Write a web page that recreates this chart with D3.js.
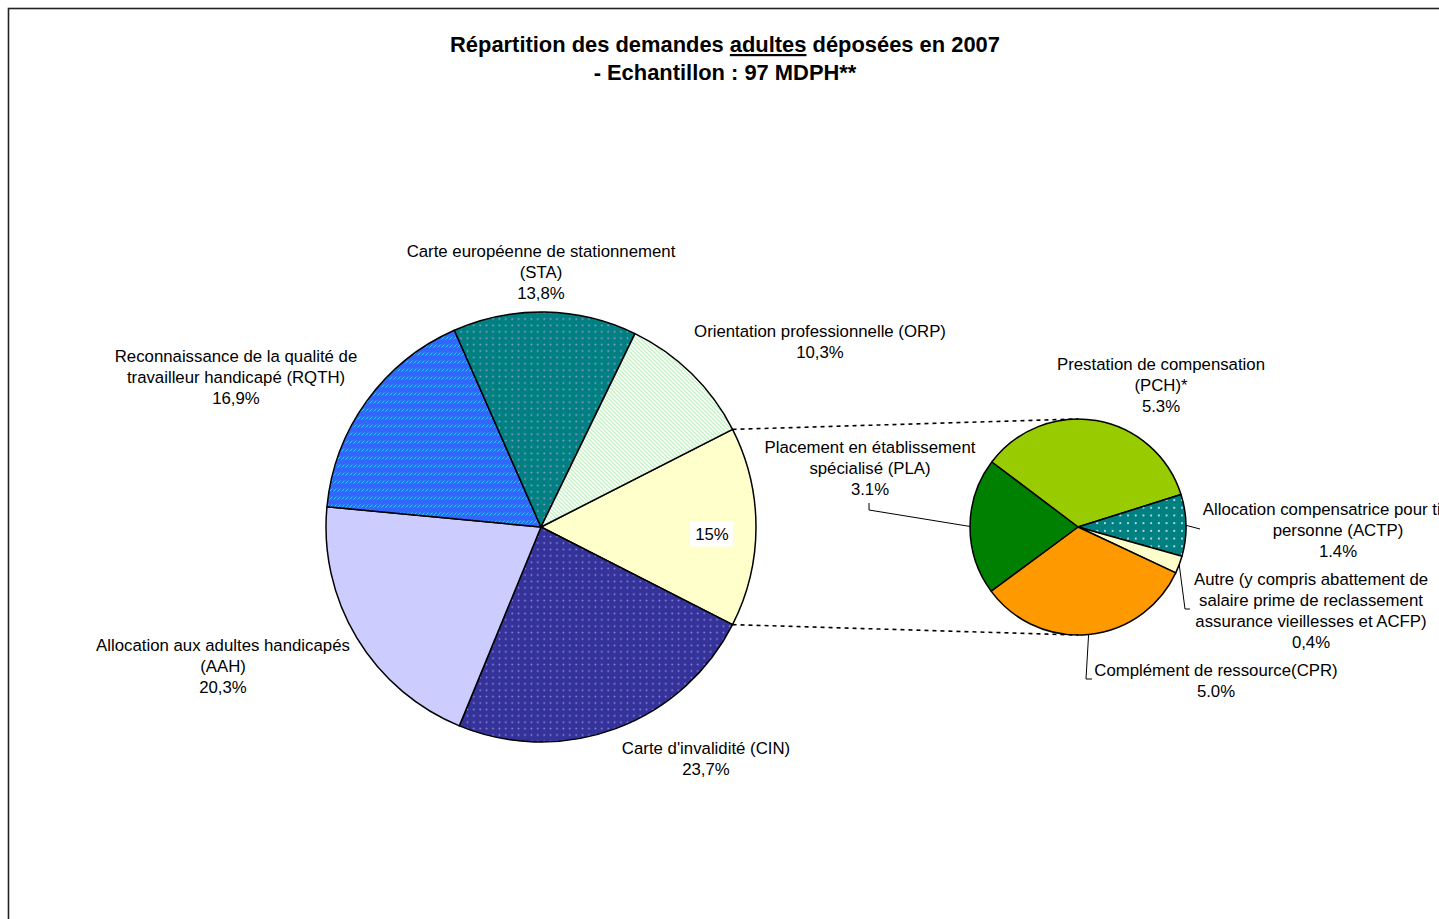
<!DOCTYPE html>
<html>
<head>
<meta charset="utf-8">
<script src="https://cdn.jsdelivr.net/npm/d3@7"></script>
<style>
  html, body { margin: 0; padding: 0; background: #fff; overflow: hidden; }
  svg { display: block; font-family: "Liberation Sans", Arial, sans-serif; }
</style>
</head>
<body>
<script>
// ---- Data ---------------------------------------------------------------
// Main pie, clockwise from the grouped "other" slice (centred at 3 o'clock)
const mainKeys   = ["AUTRES", "CIN", "AAH", "RQTH", "STA", "ORP"];
const mainValues = [15, 23.7, 20.3, 16.9, 13.8, 10.3];
const mainNames  = [
  [],
  ["Carte d'invalidité (CIN)"],
  ["Allocation aux adultes handicapés", "(AAH)"],
  ["Reconnaissance de la qualité de", "travailleur handicapé (RQTH)"],
  ["Carte européenne de stationnement", "(STA)"],
  ["Orientation professionnelle (ORP)"]
];

// Secondary pie: breakdown of the grouped slice, clockwise
const subKeys    = ["PCH", "ACTP", "AUTRE", "CPR", "PLA"];
const subValues  = [5.3, 1.4, 0.4, 5.0, 3.1];
const subDecimal = [".", ".", ",", ".", "."];
const subNames   = [
  ["Prestation de compensation", "(PCH)*"],
  ["Allocation compensatrice pour tierce", "personne (ACTP)"],
  ["Autre (y compris abattement de", "salaire prime de reclassement", "assurance vieillesses et ACFP)"],
  ["Complément de ressource(CPR)"],
  ["Placement en établissement", "spécialisé (PLA)"]
];

const titleLine1 = ["Répartition des demandes ", "adultes", " déposées en 2007"];
const titleLine2 = "- Echantillon : 97 MDPH**";

// ---- Layout -------------------------------------------------------------
const W = 1439, H = 919;
const mainC = { x: 541, y: 527 }, mainR = 215;
const subC  = { x: 1078, y: 527 }, subR = 108;
const subStartDeg = -53;
const fontSize = 16.8, lineH = 21;

// label block centres, relative to the pie centre
const mainLabelPos = {
  AUTRES: [171, 7], CIN: [165, 231], AAH: [-318, 139],
  RQTH: [-305, -150], STA: [0, -255], ORP: [279, -186]
};
const subLabelPos = {
  PCH: [83, -142], ACTP: [260, 3], AUTRE: [233, 83], CPR: [138, 153], PLA: [-208, -59]
};
// leader polylines: elbow and end points (absolute), starting from slice edge
const subLeaders = {
  ACTP: [[1200, 529]],
  AUTRE: [[1185, 609], [1190, 609]],
  CPR: [[1086, 679], [1092, 679]],
  PLA: [[869, 510], [869, 503]]
};

const svg = d3.select("body").append("svg").attr("width", W).attr("height", H);
const defs = svg.append("defs");

// ---- Fill patterns ------------------------------------------------------
function dotPattern(id, bg, dot, size, r) {
  const p = defs.append("pattern").attr("id", id)
    .attr("patternUnits", "userSpaceOnUse").attr("width", size).attr("height", size);
  p.append("rect").attr("width", size).attr("height", size).attr("fill", bg);
  p.append("circle").attr("cx", size / 2).attr("cy", size / 2).attr("r", r).attr("fill", dot);
}
dotPattern("pSTA", "#008080", "#a898d8", 6.4, 0.9);
dotPattern("pCIN", "#333399", "#9c84e0", 6.4, 0.9);
dotPattern("pACTP", "#008080", "#e8f4ff", 7.7, 1.0);

// dashed upward diagonal strokes (RQTH)
{
  const p = defs.append("pattern").attr("id", "pRQTH")
    .attr("patternUnits", "userSpaceOnUse").attr("width", 8).attr("height", 8);
  p.append("rect").attr("width", 8).attr("height", 8).attr("fill", "#3366ff");
  p.append("path").attr("d", "M0.5,4.5 L3.5,1.5 M4.5,4.5 L7.5,1.5")
    .attr("stroke", "#33ccff").attr("stroke-width", 1.0).attr("fill", "none");
}
// light downward diagonal stripes (ORP)
{
  const p = defs.append("pattern").attr("id", "pORP")
    .attr("patternUnits", "userSpaceOnUse").attr("width", 4).attr("height", 4);
  p.append("rect").attr("width", 4).attr("height", 4).attr("fill", "#ffffff");
  p.append("path").attr("d", "M-1,-1 L5,5 M-1,3 L1,5 M3,-1 L5,1")
    .attr("stroke", "#c4f2c4").attr("stroke-width", 1.4).attr("fill", "none");
}

const mainFill = {
  AUTRES: "#ffffcc", CIN: "url(#pCIN)", AAH: "#ccccff",
  RQTH: "url(#pRQTH)", STA: "url(#pSTA)", ORP: "url(#pORP)"
};
const subFill = {
  PCH: "#99cc00", ACTP: "url(#pACTP)", AUTRE: "#ffffcc", CPR: "#ff9900", PLA: "#008000"
};

// ---- Frame --------------------------------------------------------------
svg.append("rect").attr("x", 8.5).attr("y", 8.5).attr("width", W + 20).attr("height", H + 20)
  .attr("fill", "none").attr("stroke", "#222").attr("stroke-width", 1.6);

// ---- Title --------------------------------------------------------------
const title = svg.append("text").attr("x", 725).attr("y", 52)
  .attr("text-anchor", "middle").attr("font-size", 21.9).attr("font-weight", "bold").attr("fill", "#000");
titleLine1.forEach((s, i) => {
  const t = title.append("tspan").text(s);
  if (i === 1) t.style("text-decoration", "underline");
});
svg.append("text").attr("x", 725).attr("y", 80).attr("text-anchor", "middle")
  .attr("font-size", 21.9).attr("font-weight", "bold").text(titleLine2);

// ---- Main pie -----------------------------------------------------------
const mainTotal = d3.sum(mainValues);
const mainStart = Math.PI / 2 - (mainValues[0] / mainTotal) * Math.PI;
const mainPie = d3.pie().sort(null).value(d => d)
  .startAngle(mainStart).endAngle(mainStart + 2 * Math.PI);
const mainArcs = mainPie(mainValues);
const mainArc = d3.arc().innerRadius(0).outerRadius(mainR);

const gMain = svg.append("g").attr("transform", `translate(${mainC.x},${mainC.y})`);
gMain.selectAll("path").data(mainArcs).join("path")
  .attr("d", mainArc)
  .attr("fill", (d, i) => mainFill[mainKeys[i]])
  .attr("stroke", "#000").attr("stroke-width", 1.5).attr("stroke-linejoin", "round");

// ---- Secondary pie ------------------------------------------------------
const subStart = subStartDeg * Math.PI / 180;
const subPie = d3.pie().sort(null).value(d => d)
  .startAngle(subStart).endAngle(subStart + 2 * Math.PI);
const subArcs = subPie(subValues);
const subArc = d3.arc().innerRadius(0).outerRadius(subR);

const gSub = svg.append("g").attr("transform", `translate(${subC.x},${subC.y})`);
gSub.selectAll("path").data(subArcs).join("path")
  .attr("d", subArc)
  .attr("fill", (d, i) => subFill[subKeys[i]])
  .attr("stroke", "#000").attr("stroke-width", 1.5).attr("stroke-linejoin", "round");

// ---- Connector lines between the two pies -------------------------------
const polar = (c, r, a) => [c.x + r * Math.sin(a), c.y - r * Math.cos(a)];
const other = mainArcs[0];
const connectors = [
  [polar(mainC, mainR, other.startAngle), [subC.x, subC.y - subR]],
  [polar(mainC, mainR, other.endAngle), [subC.x, subC.y + subR]]
];
svg.append("g").selectAll("line").data(connectors).join("line")
  .attr("x1", d => d[0][0]).attr("y1", d => d[0][1])
  .attr("x2", d => d[1][0]).attr("y2", d => d[1][1])
  .attr("stroke", "#000").attr("stroke-width", 1.6).attr("stroke-dasharray", "4,4");

// ---- Labels -------------------------------------------------------------
const fmt = (v, sep) => d3.format(".1f")(v).replace(".", sep) + "%";

function drawBlock(cx, cy, lines) {
  const n = lines.length;
  const t = svg.append("text").attr("text-anchor", "middle")
    .attr("font-size", fontSize).attr("fill", "#000");
  lines.forEach((s, i) => {
    t.append("tspan").attr("x", cx)
      .attr("y", cy + (i - (n - 1) / 2) * lineH + fontSize * 0.36)
      .text(s);
  });
}

const leaderG = svg.append("g").attr("fill", "none").attr("stroke", "#000").attr("stroke-width", 1);

mainKeys.forEach((k, i) => {
  const [dx, dy] = mainLabelPos[k];
  const cx = mainC.x + dx, cy = mainC.y + dy;
  if (k === "AUTRES") {
    const label = d3.format(".0f")(mainValues[i]) + "%";
    svg.append("rect").attr("x", cx - 22).attr("y", cy - 12.5).attr("width", 43).attr("height", 25)
      .attr("fill", "#fff");
    drawBlock(cx, cy, [label]);
  } else {
    drawBlock(cx, cy, mainNames[i].concat([fmt(mainValues[i], ",")]));
  }
});

subKeys.forEach((k, i) => {
  const [dx, dy] = subLabelPos[k];
  drawBlock(subC.x + dx, subC.y + dy, subNames[i].concat([fmt(subValues[i], subDecimal[i])]));
  if (subLeaders[k]) {
    const a = subArcs[i];
    const start = polar(subC, subR, (a.startAngle + a.endAngle) / 2);
    leaderG.append("path").attr("d", d3.line()([start].concat(subLeaders[k])));
  }
});
</script>
</body>
</html>
